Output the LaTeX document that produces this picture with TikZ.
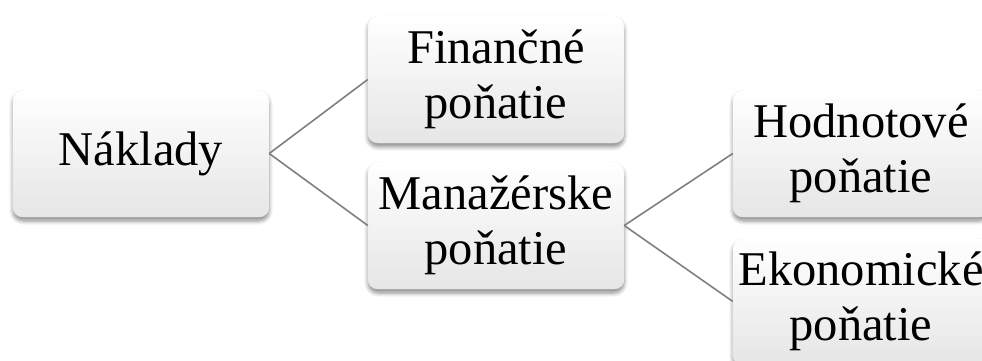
\documentclass[tikz,border=0pt]{standalone}
\usepackage{fontspec}
\setmainfont{Liberation Serif}
\usetikzlibrary{shadows.blur}
\begin{document}
\begin{tikzpicture}[x=1pt,y=1pt,
  box/.style={rectangle, rounded corners=10pt, minimum width=256pt, minimum height=127pt,
    top color=white, bottom color=black!10, draw=black!6, line width=0.4pt,
    blur shadow={shadow xshift=0pt, shadow yshift=-4pt, shadow blur steps=6, shadow opacity=45, shadow blur radius=4pt},
    align=center, inner sep=0pt, font=\fontsize{48.5}{55}\selectfont},
  conn/.style={draw=black!50, line width=1.6pt}]
\useasboundingbox (0,0) rectangle (982,360);
\node[box] (nak) at (141,206.5) {Náklady};
\node[box] (fin) at (496,280.5) {Finančné\\poňatie};
\node[box] (man) at (496,134.5) {Manažérske\\poňatie};
\node[box] (hod) at (861,206.5) {Hodnotové\\poňatie};
\node[box] (eko) at (861,58.5) {Ekonomické\\poňatie};
\draw[conn] (nak.east) -- (fin.west);
\draw[conn] (nak.east) -- (man.west);
\draw[conn] (man.east) -- (hod.west);
\draw[conn] (man.east) -- (eko.west);
\end{tikzpicture}
\end{document}
